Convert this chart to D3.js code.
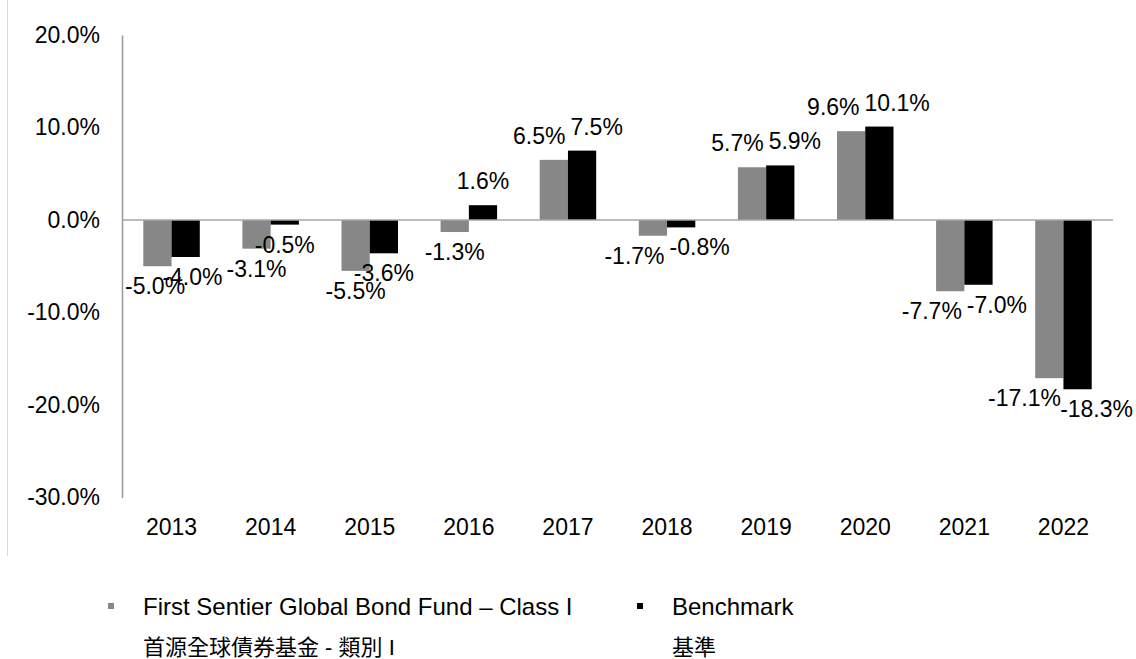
<!DOCTYPE html>
<html>
<head>
<meta charset="utf-8">
<script src="https://cdn.jsdelivr.net/npm/d3@7"></script>
<style>
  body { margin: 0; background: #fff; }
  svg { display: block; font-family: "Liberation Sans", Arial, sans-serif; }
</style>
</head>
<body>
<svg id="chart" width="1136" height="659"></svg>
<script>
const years = ["2013", "2014", "2015", "2016", "2017", "2018", "2019", "2020", "2021", "2022"];
const fundValues = [-5.0, -3.1, -5.5, -1.3, 6.5, -1.7, 5.7, 9.6, -7.7, -17.1];
const benchmarkValues = [-4.0, -0.5, -3.6, 1.6, 7.5, -0.8, 5.9, 10.1, -7.0, -18.3];
const yTicks = [20, 10, 0, -10, -20, -30];
const seriesNames = ["fund", "benchmark"];
const legendEn = ["First Sentier Global Bond Fund \u2013 Class I", "Benchmark"];
const legendZh = ["首源全球債券基金 - 類別 I", "基準"];

const width = 1136;
const marginLeft = 122;
const marginRight = 23;
const plotTop = 35;
const plotBottom = 497.5;
const fontSize = 23;
const colors = { fund: "#878787", benchmark: "#000000" };

const data = years.map((year, i) => ({
  year,
  fund: fundValues[i],
  benchmark: benchmarkValues[i],
}));

// hyphen instead of d3's unicode minus
const pct = (v) => v.toFixed(1) + "%";

const svg = d3.select("#chart");

// faint chart-area border on the left
svg
  .append("line")
  .attr("x1", 7.5)
  .attr("x2", 7.5)
  .attr("y1", 0)
  .attr("y2", 556)
  .attr("stroke", "#d9d9d9")
  .attr("stroke-width", 1);

const x0 = d3
  .scaleBand()
  .domain(years)
  .range([marginLeft, width - marginRight])
  .paddingInner(0.43)
  .paddingOuter(0.215);

const x1 = d3.scaleBand().domain(seriesNames).range([0, x0.bandwidth()]);

const y = d3.scaleLinear().domain([-30, 20]).range([plotBottom, plotTop]);

// bars
const groups = svg
  .append("g")
  .selectAll("g")
  .data(data)
  .join("g");

groups
  .selectAll("rect")
  .data((d) => seriesNames.map((key) => ({ key, value: d[key], year: d.year })))
  .join("rect")
  .attr("x", (d) => x0(d.year) + x1(d.key))
  .attr("width", x1.bandwidth())
  .attr("y", (d) => y(Math.max(0, d.value)))
  .attr("height", (d) => Math.abs(y(d.value) - y(0)))
  .attr("fill", (d) => colors[d.key]);

// y axis (labels only, plus the vertical line)
svg
  .append("g")
  .attr("class", "yAxis")
  .attr("transform", `translate(${marginLeft},0)`)
  .call(d3.axisLeft(y).tickValues(yTicks).tickSize(0).tickPadding(22).tickFormat(pct))
  .call((g) => g.select(".domain").attr("stroke", "#999").attr("stroke-width", 1.5))
  .selectAll("text")
  .style("font-size", fontSize + "px")
  .style("font-family", "'Liberation Sans', Arial, sans-serif")
  .attr("fill", "#000");

// zero line
svg
  .append("line")
  .attr("x1", marginLeft)
  .attr("x2", width - marginRight)
  .attr("y1", y(0))
  .attr("y2", y(0))
  .attr("stroke", "#a6a6a6")
  .attr("stroke-width", 1.5);

// x labels below the plot
svg
  .append("g")
  .attr("class", "xAxis")
  .attr("transform", `translate(0,${plotBottom})`)
  .call(d3.axisBottom(x0).tickSize(0).tickPadding(21))
  .call((g) => g.select(".domain").remove())
  .selectAll("text")
  .style("font-size", fontSize + "px")
  .style("font-family", "'Liberation Sans', Arial, sans-serif")
  .attr("fill", "#000");

// value labels
groups
  .selectAll("text.value")
  .data((d) => seriesNames.map((key) => ({ key, value: d[key], year: d.year })))
  .join("text")
  .attr("class", "value")
  .attr("text-anchor", "middle")
  .attr("x", (d) => x0(d.year) + x1(d.key) + x1.bandwidth() / 2)
  .attr("y", (d) => (d.value >= 0 ? y(d.value) - 16 : y(d.value) + 28))
  .style("font-size", fontSize + "px")
  .attr("fill", "#000")
  .text((d) => pct(d.value));

// label boxes at their default spot
const boxes = groups.nodes().map((node) =>
  d3
    .select(node)
    .selectAll("text.value")
    .nodes()
    .map((t) => {
      const w = t.getComputedTextLength();
      const cx = +t.getAttribute("x");
      const by = +t.getAttribute("y");
      return { node: t, w, cx, x: cx, top: by - fontSize * 0.75, bottom: by };
    }),
);

const vOverlap = (p, q) => p.top < q.bottom && q.top < p.bottom;

// spread the two labels of a year when they sit at nearly the same height
boxes.forEach((pair) => {
  const [a, b] = pair;
  const da = d3.select(a.node).datum();
  const db = d3.select(b.node).datum();
  if ((da.value >= 0) !== (db.value >= 0)) return;
  if (Math.abs(a.bottom - b.bottom) > 12) return;
  const overlap = a.w / 2 + b.w / 2 + 5 - (b.cx - a.cx);
  if (overlap > 0) {
    a.x = a.cx - overlap / 2;
    b.x = b.cx + overlap / 2;
  }
});

// keep every label clear of the neighbouring years' labels and the edges
boxes.forEach((pair, i) => {
  pair.forEach((box) => {
    let lo = marginLeft + 3;
    let hi = width - 3;
    (boxes[i - 1] || []).forEach((n) => {
      if (vOverlap(box, n)) lo = Math.max(lo, n.cx + n.w / 2 + 4);
    });
    (boxes[i + 1] || []).forEach((n) => {
      if (vOverlap(box, n)) hi = Math.min(hi, n.cx - n.w / 2 - 4);
    });
    let x = box.x;
    if (x - box.w / 2 < lo) x = lo + box.w / 2;
    if (x + box.w / 2 > hi) x = hi - box.w / 2;
    box.node.setAttribute("x", x);
  });
});

// legend
const legendX = [108, 637];
const legend = svg
  .append("g")
  .selectAll("g")
  .data(seriesNames)
  .join("g")
  .attr("transform", (d, i) => `translate(${legendX[i]},0)`);

legend
  .append("rect")
  .attr("x", 0)
  .attr("y", 603)
  .attr("width", 6)
  .attr("height", 6)
  .attr("fill", (d) => colors[d]);

legend
  .append("text")
  .attr("x", 35)
  .attr("y", 615)
  .style("font-size", "24px")
  .attr("fill", "#000")
  .text((d, i) => legendEn[i]);

legend
  .append("text")
  .attr("x", 35)
  .attr("y", 655)
  .style("font-size", "22px")
  .style("font-family", "'Liberation Sans', 'Noto Sans CJK TC', sans-serif")
  .attr("fill", "#000")
  .text((d, i) => legendZh[i]);
</script>
</body>
</html>
